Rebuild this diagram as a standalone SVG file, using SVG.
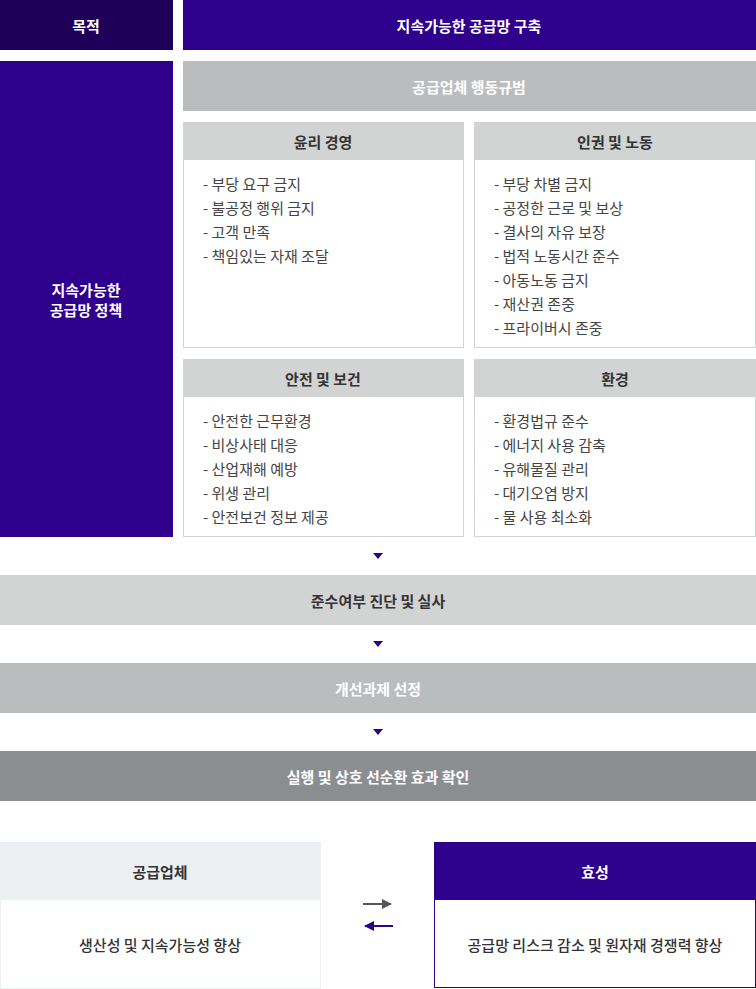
<svg xmlns="http://www.w3.org/2000/svg" width="756" height="989" viewBox="0 0 756 989">
<style>
text{font-family:"Noto Sans CJK KR","Noto Sans",sans-serif}
.t{font-size:15px;font-weight:700;text-anchor:middle;dominant-baseline:central}
.w{fill:#fff}
.d{fill:#333}
.li{font-size:15px;fill:#444;dominant-baseline:central}
.hd{fill:#d2d3d3}
.bd{fill:#fff;stroke:#d2d3d3;stroke-width:1}
</style>
<defs>
<marker id="ah" viewBox="0 0 10 10" refX="9" refY="5" markerWidth="5" markerHeight="5" orient="auto"><path d="M0,0L10,5L0,10z" fill="context-stroke"/></marker>
</defs>
<rect width="756" height="989" fill="#fff"/>
<g id="goal-label"><rect x="0" y="0" width="173" height="50" fill="#1e0058"/><text class="t w" x="86" y="25">목적</text></g>
<g id="goal"><rect x="183" y="0" width="573" height="50" fill="#2e008b"/><text class="t w" x="469" y="25">지속가능한 공급망 구축</text></g>
<g id="policy"><rect x="0" y="61" width="173" height="476" fill="#2e008b"/><text class="t w" x="86" y="289">지속가능한</text><text class="t w" x="86" y="309">공급망 정책</text></g>
<g id="code"><rect x="183" y="61" width="573" height="50" fill="#bbbcbd"/><text class="t w" x="469" y="86">공급업체 행동규범</text></g>
<g id="ethics"><rect class="bd" x="183.5" y="122.5" width="280" height="225"/><rect class="hd" x="183" y="122" width="281" height="38"/><text class="t d" x="323" y="141">윤리 경영</text>
<text class="li" x="203" y="183">- 부당 요구 금지</text><text class="li" x="203" y="207">- 불공정 행위 금지</text><text class="li" x="203" y="231">- 고객 만족</text><text class="li" x="203" y="255">- 책임있는 자재 조달</text></g>
<g id="human"><rect class="bd" x="474.5" y="122.5" width="281" height="225"/><rect class="hd" x="474" y="122" width="282" height="38"/><text class="t d" x="615" y="141">인권 및 노동</text>
<text class="li" x="494" y="183">- 부당 차별 금지</text><text class="li" x="494" y="207">- 공정한 근로 및 보상</text><text class="li" x="494" y="231">- 결사의 자유 보장</text><text class="li" x="494" y="255">- 법적 노동시간 준수</text><text class="li" x="494" y="279">- 아동노동 금지</text><text class="li" x="494" y="303">- 재산권 존중</text><text class="li" x="494" y="327">- 프라이버시 존중</text></g>
<g id="safety"><rect class="bd" x="183.5" y="359.5" width="280" height="177"/><rect class="hd" x="183" y="359" width="281" height="38"/><text class="t d" x="323" y="378">안전 및 보건</text>
<text class="li" x="203" y="420">- 안전한 근무환경</text><text class="li" x="203" y="444">- 비상사태 대응</text><text class="li" x="203" y="468">- 산업재해 예방</text><text class="li" x="203" y="492">- 위생 관리</text><text class="li" x="203" y="516">- 안전보건 정보 제공</text></g>
<g id="env"><rect class="bd" x="474.5" y="359.5" width="281" height="177"/><rect class="hd" x="474" y="359" width="282" height="38"/><text class="t d" x="615" y="378">환경</text>
<text class="li" x="494" y="420">- 환경법규 준수</text><text class="li" x="494" y="444">- 에너지 사용 감축</text><text class="li" x="494" y="468">- 유해물질 관리</text><text class="li" x="494" y="492">- 대기오염 방지</text><text class="li" x="494" y="516">- 물 사용 최소화</text></g>
<g id="check"><rect x="0" y="575" width="756" height="50" fill="#d2d3d3"/><text class="t d" x="378" y="600">준수여부 진단 및 실사</text></g>
<g id="select"><rect x="0" y="663" width="756" height="50" fill="#bbbcbd"/><text class="t w" x="378" y="688">개선과제 선정</text></g>
<g id="exec"><rect x="0" y="751" width="756" height="50" fill="#8b8e91"/><text class="t w" x="378" y="776">실행 및 상호 선순환 효과 확인</text></g>
<g id="supplier"><rect x="0.5" y="842.5" width="320" height="146" fill="#fff" stroke="#edf0f3"/><rect x="0" y="842" width="321" height="58" fill="#edf0f3"/><text class="t d" x="160" y="871">공급업체</text><text class="t d" x="160" y="944" style="font-weight:500">생산성 및 지속가능성 향상</text></g>
<g id="hyosung"><rect x="434.5" y="842.5" width="321" height="145" fill="#fff" stroke="#2e008b"/><rect x="434" y="842" width="322" height="58" fill="#2e008b"/><text class="t w" x="595" y="871">효성</text><text class="t d" x="595" y="944" style="font-weight:500">공급망 리스크 감소 및 원자재 경쟁력 향상</text></g>
<g id="connectors">
<path d="M373,553h10l-5,6z" fill="#2e008b"/>
<path d="M373,641h10l-5,6z" fill="#2e008b"/>
<path d="M373,729h10l-5,6z" fill="#2e008b"/>
<line x1="363" y1="904" x2="391" y2="904" stroke="#555" stroke-width="2" marker-end="url(#ah)"/>
<line x1="393" y1="926" x2="365" y2="926" stroke="#2e008b" stroke-width="2" marker-end="url(#ah)"/>
</g>
</svg>
